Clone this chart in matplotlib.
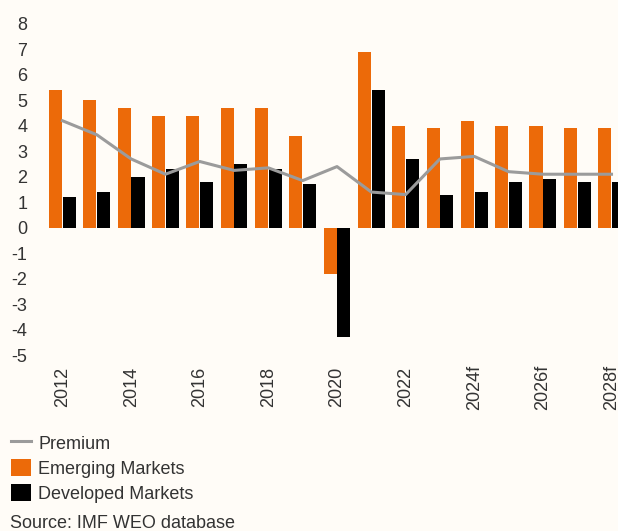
import matplotlib
matplotlib.use("Agg")
import matplotlib.pyplot as plt
import numpy as np

# ---- Data ----
years = ["2012", "2013", "2014", "2015", "2016", "2017", "2018", "2019", "2020",
         "2021", "2022", "2023", "2024f", "2025f", "2026f", "2027f", "2028f"]
emerging = [5.4, 5.0, 4.7, 4.4, 4.4, 4.7, 4.7, 3.6, -1.8,
            6.9, 4.0, 3.9, 4.2, 4.0, 4.0, 3.9, 3.9]
developed = [1.2, 1.4, 2.0, 2.3, 1.8, 2.5, 2.3, 1.7, -4.3,
             5.4, 2.7, 1.3, 1.4, 1.8, 1.9, 1.8, 1.8]
premium = [4.2, 3.65, 2.7, 2.1, 2.6, 2.25, 2.35, 1.85, 2.4,
           1.4, 1.3, 2.7, 2.8, 2.2, 2.1, 2.1, 2.1]
yticks = [8, 7, 6, 5, 4, 3, 2, 1, 0, -1, -2, -3, -4, -5]

BG = "#FFFCF7"
ORANGE = "#EC6A09"
GREY = "#9B9B9B"
TEXT = "#333333"

plt.rcParams["font.family"] = ["Liberation Sans", "DejaVu Sans"]

W, H = 618, 531
fig = plt.figure(figsize=(W / 100, H / 100), dpi=100, facecolor=BG)

# axes placed in pixels: x 44..618, y 24..355
ax = fig.add_axes([44 / W, 1 - 355 / H, (618 - 44) / W, (355 - 24) / H])
ax.set_facecolor(BG)

x = np.arange(len(years))
bw = 0.38
bars_em = ax.bar(x - 0.2, emerging, bw, color=ORANGE, label="Emerging Markets", zorder=2)
bars_dm = ax.bar(x + 0.2, developed, bw, color="black", label="Developed Markets", zorder=2)
line_pr, = ax.plot(x, premium, color=GREY, lw=2.2, label="Premium", zorder=3)

step = 34.31  # px per category
ax.set_xlim(-18.5 / step, 16 + 6.5 / step)
ax.set_ylim(-5, 8)

ax.set_yticks(yticks)
ax.set_yticklabels([str(v) for v in yticks])
ax.set_xticks(x[::2])
ax.set_xticklabels(years[::2], rotation=90, va="center")

ax.tick_params(axis="both", length=0, labelsize=13, colors=TEXT)
ax.tick_params(axis="y", pad=12)
ax.tick_params(axis="x", pad=23)
for s in ax.spines.values():
    s.set_visible(False)

fig.legend(handles=[line_pr, bars_em, bars_dm],
           loc="upper left", bbox_to_anchor=(11 / W, 1 - 434 / H),
           frameon=False, fontsize=13, labelcolor=TEXT,
           handlelength=1.1, handleheight=1.1, handletextpad=0.4,
           labelspacing=0.34, borderpad=0, borderaxespad=0)

fig.text(10 / W, 1 - 524 / H, "Source: IMF WEO database", fontsize=13,
         color=TEXT, va="center", ha="left")

fig.savefig("out.png", dpi=100, facecolor=BG)
